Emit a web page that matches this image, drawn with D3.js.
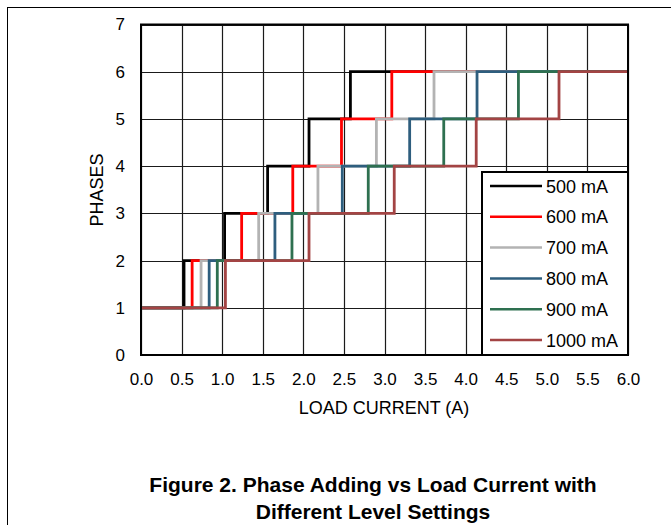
<!DOCTYPE html>
<html>
<head>
<meta charset="utf-8">
<script src="https://cdn.jsdelivr.net/npm/d3@7"></script>
<style>
  html, body { margin: 0; padding: 0; background: #fff; }
  svg { display: block; font-family: "Liberation Sans", Arial, sans-serif; }
</style>
</head>
<body>
<svg id="chart" width="671" height="525"></svg>
<script>
// ---- data ----
const seriesNames = ["500 mA", "600 mA", "700 mA", "800 mA", "900 mA", "1000 mA"];
const seriesColors = ["#000000", "#ff0000", "#b3b3b3", "#2e5e7e", "#2e7050", "#a34444"];
// load current (A) at which the phase count steps to 2, 3, 4, 5, 6
const steps500  = [0.53, 1.03, 1.56, 2.07, 2.58];
const steps600  = [0.63, 1.24, 1.87, 2.47, 3.09];
const steps700  = [0.74, 1.45, 2.18, 2.90, 3.61];
const steps800  = [0.84, 1.65, 2.48, 3.31, 4.14];
const steps900  = [0.94, 1.86, 2.80, 3.73, 4.65];
const steps1000 = [1.04, 2.07, 3.12, 4.13, 5.15];
const allSteps = [steps500, steps600, steps700, steps800, steps900, steps1000];
const xTicks = [0, 0.5, 1, 1.5, 2, 2.5, 3, 3.5, 4, 4.5, 5, 5.5, 6];
const yTicks = [0, 1, 2, 3, 4, 5, 6, 7];
const xLabel = "LOAD CURRENT (A)";
const yLabel = "PHASES";
const titleLines = ["Figure 2. Phase Adding vs Load Current with", "Different Level Settings"];

const svg = d3.select("#chart");
const L = 141, R = 628, T = 24.5, B = 355;
const x = d3.scaleLinear().domain([0, 6]).range([L, R]);
const y = d3.scaleLinear().domain([0, 7]).range([B, T]);

// outer frame
svg.append("rect").attr("x", 7.5).attr("y", 7.5).attr("width", 700).attr("height", 600)
  .attr("fill", "none").attr("stroke", "#000").attr("stroke-width", 1);

// gridlines
const grid = svg.append("g");
grid.selectAll("line.v").data(xTicks).join("line")
  .attr("x1", d => Math.round(x(d)) + 0.5).attr("x2", d => Math.round(x(d)) + 0.5)
  .attr("y1", T).attr("y2", B).attr("stroke", "#1a1a1a").attr("stroke-width", 1.2);
grid.selectAll("line.h").data(yTicks).join("line")
  .attr("y1", d => Math.round(y(d)) + 0.5).attr("y2", d => Math.round(y(d)) + 0.5)
  .attr("x1", L).attr("x2", R).attr("stroke", "#1a1a1a").attr("stroke-width", 1.2);

// series
const line = d3.line().x(d => x(d[0])).y(d => y(d[1])).curve(d3.curveStepAfter);
allSteps.forEach((st, i) => {
  const pts = [[0, 1]];
  st.forEach((v, k) => pts.push([v, k + 2]));
  pts.push([6, 6]);
  svg.append("path").attr("d", line(pts)).attr("fill", "none")
    .attr("stroke", seriesColors[i]).attr("stroke-width", 2.8);
});

// plot border
svg.append("rect").attr("x", L).attr("y", T).attr("width", R - L).attr("height", B - T)
  .attr("fill", "none").attr("stroke", "#000").attr("stroke-width", 2);

// axes (labels only)
const xAxis = d3.axisBottom(x).tickValues(xTicks).tickFormat(d3.format(".1f")).tickSize(0).tickPadding(18);
const gx = svg.append("g").attr("transform", `translate(0,${B})`).call(xAxis);
gx.select(".domain").remove();
gx.selectAll("text").attr("font-size", 17).attr("fill", "#000").attr("font-family", "Liberation Sans, Arial, sans-serif");

const yAxis = d3.axisLeft(y).tickValues(yTicks).tickFormat(d3.format("d")).tickSize(0).tickPadding(16);
const gy = svg.append("g").attr("transform", `translate(${L},0)`).call(yAxis);
gy.select(".domain").remove();
gy.selectAll("text").attr("font-size", 17).attr("fill", "#000").attr("font-family", "Liberation Sans, Arial, sans-serif");

svg.append("text").attr("x", 384).attr("y", 414).attr("text-anchor", "middle")
  .attr("font-size", 18).text(xLabel);
svg.append("text").attr("transform", "translate(103,190) rotate(-90)").attr("text-anchor", "middle")
  .attr("font-size", 18).text(yLabel);

// legend
const lg = svg.append("g");
lg.append("rect").attr("x", 482).attr("y", 172).attr("width", 146).attr("height", 183)
  .attr("fill", "#fff").attr("stroke", "#000").attr("stroke-width", 2);
seriesNames.forEach((n, i) => {
  const yy = 186 + i * 30.8;
  lg.append("line").attr("x1", 490).attr("x2", 542).attr("y1", yy).attr("y2", yy)
    .attr("stroke", seriesColors[i]).attr("stroke-width", 2.5);
  lg.append("text").attr("x", 546).attr("y", yy + 6.5).attr("font-size", 18).text(n);
});

// title
titleLines.forEach((t, i) => {
  svg.append("text").attr("x", 373).attr("y", 492 + i * 27).attr("text-anchor", "middle")
    .attr("font-size", 21).attr("font-weight", "bold").text(t);
});
</script>
</body>
</html>
